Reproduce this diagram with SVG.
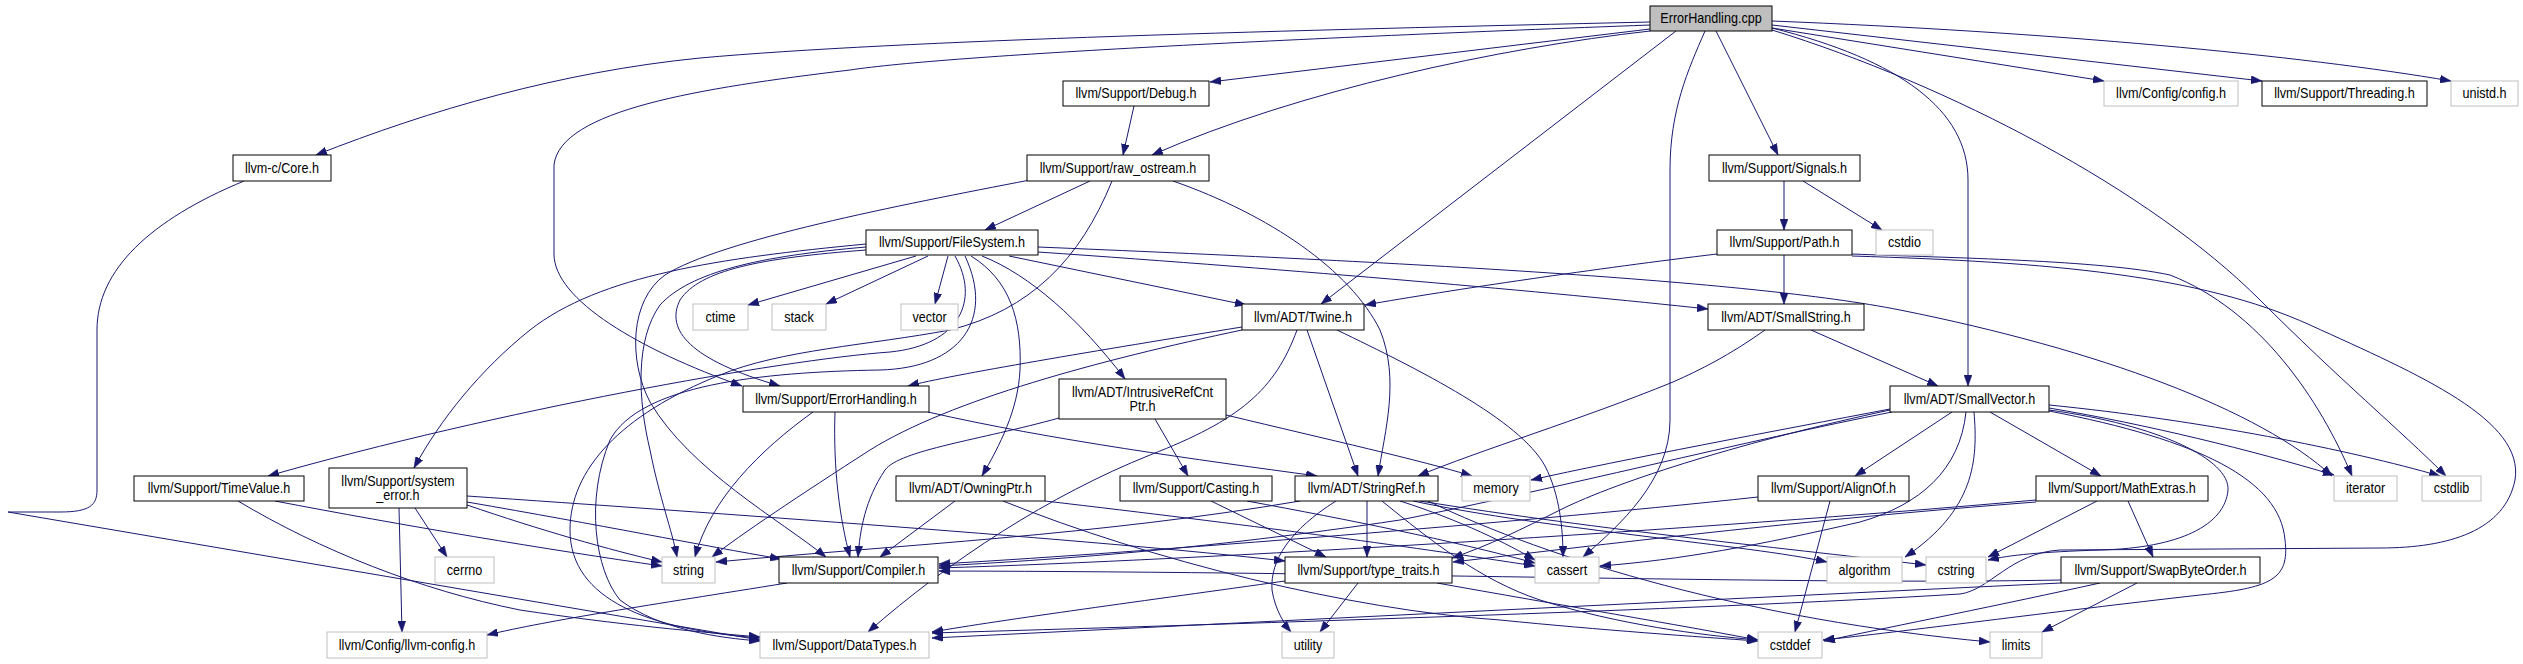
<svg xmlns="http://www.w3.org/2000/svg" width="2523" height="664" viewBox="0 0 2523 664">
<defs>
<style>
.n rect{fill:#fff;stroke:#000;stroke-width:1}
.x rect{fill:#fff;stroke:#bfbfbf;stroke-width:1}
.r rect{fill:#bfbfbf;stroke:#000;stroke-width:1}
text{font-family:"Liberation Sans",Arial,sans-serif;font-size:14px;fill:#000;text-anchor:middle;transform-box:fill-box;transform-origin:center;transform:scaleX(0.9)}
.e path{fill:none;stroke:#191970;stroke-width:1;marker-end:url(#a)}
</style>
<marker id="a" markerWidth="11" markerHeight="8" refX="11" refY="4" orient="auto" markerUnits="userSpaceOnUse"><path d="M0,0 L11,4 L0,8 z" fill="#191970" stroke="#191970" stroke-width="0.5"/></marker>
</defs>
<rect width="2523" height="664" fill="#fff"/>
<g id="connectors" class="e">
<path d="M1650,22 C1300,30 900,40 700,58 C560,72 430,110 316,155"/>
<path d="M1650,25 C1300,38 950,55 850,70 C700,88 560,110 554,165 L554,254 C554,300 640,350 742,386"/>
<path d="M1650,29 L1210,82"/>
<path d="M1650,31 C1500,48 1300,90 1152,155"/>
<path d="M1676,31 L1321,304"/>
<path d="M1705,31 C1688,70 1670,110 1670,170 L1670,420 C1670,480 1620,525 1583,557"/>
<path d="M1716,31 L1778,155"/>
<path d="M1772,28 C1900,60 1968,110 1968,180 L1968,386"/>
<path d="M1772,30 C1950,85 2150,190 2260,300 C2340,380 2400,430 2446,476"/>
<path d="M1772,28 L2104,81"/>
<path d="M1772,25 L2262,81"/>
<path d="M1772,21 C2050,32 2300,55 2451,81"/>
<path d="M244,181 C150,220 97,270 97,330 L97,490 C97,505 90,512 60,512 L8,512 L760,640"/>
<path d="M1134,106 L1123,155"/>
<path d="M1090,181 L985,230"/>
<path d="M1030,180 C900,205 720,240 665,275 C630,300 628,360 650,402 C690,470 780,520 826,557"/>
<path d="M1112,181 C1080,260 1030,310 950,330 C870,345 780,350 720,375 C620,415 570,470 570,530 C570,600 650,630 760,638"/>
<path d="M1173,181 C1270,215 1350,270 1380,330 C1400,380 1385,430 1378,476"/>
<path d="M1784,181 L1784,230"/>
<path d="M1803,181 L1882,230"/>
<path d="M916,256 L748,305"/>
<path d="M928,256 L826,304"/>
<path d="M948,256 L935,304"/>
<path d="M1009,256 L1246,305"/>
<path d="M982,256 C1030,275 1080,320 1125,379"/>
<path d="M971,256 C1010,280 1022,320 1020,370 C1018,410 1000,445 982,476"/>
<path d="M1038,252 C1300,270 1550,292 1708,309"/>
<path d="M1038,247 C1400,262 1750,280 1900,310 C2100,350 2260,410 2332,476"/>
<path d="M955,256 C980,300 960,345 890,352 C780,360 500,410 268,476"/>
<path d="M965,256 C995,320 960,368 880,370 C760,372 640,385 610,440 C585,500 595,570 620,600 C660,630 720,638 760,641"/>
<path d="M866,244 C720,258 600,275 530,330 C480,370 440,420 414,468"/>
<path d="M866,250 C760,258 700,270 680,300 C665,330 690,360 780,386"/>
<path d="M866,247 C760,256 690,272 660,305 C635,340 638,400 650,450 C660,500 672,530 677,557"/>
<path d="M1307,330 L1358,476"/>
<path d="M1242,327 C1100,350 950,375 908,386"/>
<path d="M1242,330 C1100,360 950,400 870,450 C800,495 740,535 712,557"/>
<path d="M1297,330 C1275,390 1240,420 1150,455 C1050,495 950,560 868,632"/>
<path d="M1337,330 C1420,370 1520,420 1545,466 C1560,495 1563,530 1563,557"/>
<path d="M1717,254 C1600,268 1450,290 1365,305"/>
<path d="M1784,255 L1784,304"/>
<path d="M1852,254 C1950,258 2100,260 2170,275 C2260,310 2320,400 2352,476"/>
<path d="M1852,256 C2050,262 2200,275 2310,325 C2420,375 2525,420 2515,480 C2505,530 2450,548 2380,548 L2060,550 C2010,553 1990,590 1960,594 C1700,610 1200,625 932,633"/>
<path d="M1811,330 L1938,386"/>
<path d="M1765,330 C1730,355 1700,370 1673,382 C1580,420 1480,450 1418,476"/>
<path d="M928,412 C1050,440 1200,460 1317,476"/>
<path d="M835,412 C833,470 840,520 850,557"/>
<path d="M813,412 C760,450 710,500 695,557"/>
<path d="M1155,419 L1188,476"/>
<path d="M1226,415 C1330,440 1420,460 1472,476"/>
<path d="M1059,418 C980,440 900,450 885,470 C865,500 860,530 858,557"/>
<path d="M1890,409 C1780,430 1620,460 1531,480"/>
<path d="M1890,410 C1750,440 1620,480 1560,510 C1520,530 1490,545 1452,558"/>
<path d="M1892,412 C1750,440 1550,490 1400,520 C1200,550 1050,560 939,566"/>
<path d="M1952,412 L1855,476"/>
<path d="M1990,412 L2101,476"/>
<path d="M1974,412 C1978,460 1975,510 1905,557"/>
<path d="M1966,412 C1960,470 1920,505 1860,522 C1760,545 1680,560 1600,566"/>
<path d="M2049,408 C2150,425 2250,450 2334,475"/>
<path d="M2049,405 C2200,420 2350,450 2440,476"/>
<path d="M2049,410 C2160,425 2230,460 2228,490 C2225,525 2180,548 2100,550 C2040,552 2010,555 1988,560"/>
<path d="M2049,411 C2200,440 2280,480 2285,540 C2290,580 2270,588 2200,595 C2050,612 1900,632 1823,640"/>
<path d="M2036,500 C1700,530 1200,560 939,568"/>
<path d="M2036,502 C1800,520 1600,545 1453,562"/>
<path d="M2097,501 L1988,557"/>
<path d="M2128,501 L2153,557"/>
<path d="M1758,497 C1500,525 1100,555 939,564"/>
<path d="M1830,501 L1795,632"/>
<path d="M2061,580 C1800,585 1400,572 939,571"/>
<path d="M2061,583 C1700,600 1300,620 932,638"/>
<path d="M2100,583 C2000,605 1900,625 1824,641"/>
<path d="M2137,583 L2042,632"/>
<path d="M1358,583 L1320,632"/>
<path d="M1437,583 C1560,605 1680,625 1758,640"/>
<path d="M1285,581 C1150,600 1000,620 932,632"/>
<path d="M1211,501 L1326,557"/>
<path d="M1247,501 C1350,520 1450,540 1535,563"/>
<path d="M955,501 L880,557"/>
<path d="M1045,501 C1250,525 1400,545 1535,566"/>
<path d="M1003,501 C1150,560 1350,610 1500,620 C1600,630 1700,637 1758,641"/>
<path d="M1367,501 L1367,557"/>
<path d="M1336,501 C1290,530 1270,560 1272,590 C1275,610 1285,625 1291,632"/>
<path d="M1300,501 C1100,535 900,545 716,562"/>
<path d="M1400,501 C1460,520 1510,545 1535,560"/>
<path d="M1413,501 C1550,530 1750,545 1827,562"/>
<path d="M1420,501 C1600,530 1800,550 1926,565"/>
<path d="M1428,501 C1550,560 1750,620 1990,642"/>
<path d="M1382,501 C1430,540 1480,580 1540,600 C1620,625 1700,635 1758,640"/>
<path d="M238,501 C320,550 420,590 520,610 C620,625 700,632 760,637"/>
<path d="M275,501 C400,525 550,550 662,566"/>
<path d="M399,508 L402,632"/>
<path d="M415,508 L447,557"/>
<path d="M467,505 C540,530 610,550 662,562"/>
<path d="M467,502 C600,525 700,545 781,559"/>
<path d="M467,496 C700,512 1100,540 1285,561"/>
<path d="M787,583 C650,605 550,620 487,635"/>
</g>
<g id="n_cpp" class="r"><rect x="1650" y="6" width="122" height="25"/><text x="1711" y="23.5">ErrorHandling.cpp</text></g>
<g id="n_debug" class="n"><rect x="1063" y="81" width="146" height="25"/><text x="1136" y="98.5">llvm/Support/Debug.h</text></g>
<g id="n_config" class="x"><rect x="2104" y="81" width="134" height="25"/><text x="2171" y="98.5">llvm/Config/config.h</text></g>
<g id="n_threading" class="n"><rect x="2262" y="81" width="165" height="25"/><text x="2344.5" y="98.5">llvm/Support/Threading.h</text></g>
<g id="n_unistd" class="x"><rect x="2451" y="81" width="67" height="25"/><text x="2484.5" y="98.5">unistd.h</text></g>
<g id="n_core" class="n"><rect x="233" y="155" width="98" height="26"/><text x="282" y="173">llvm-c/Core.h</text></g>
<g id="n_raw_ostream" class="n"><rect x="1027" y="155" width="182" height="26"/><text x="1118" y="173">llvm/Support/raw_ostream.h</text></g>
<g id="n_signals" class="n"><rect x="1709" y="155" width="151" height="26"/><text x="1784.5" y="173">llvm/Support/Signals.h</text></g>
<g id="n_filesystem" class="n"><rect x="866" y="230" width="172" height="25"/><text x="952" y="247.5">llvm/Support/FileSystem.h</text></g>
<g id="n_path" class="n"><rect x="1717" y="230" width="135" height="25"/><text x="1784.5" y="247.5">llvm/Support/Path.h</text></g>
<g id="n_cstdio" class="x"><rect x="1876" y="230" width="57" height="25"/><text x="1904.5" y="247.5">cstdio</text></g>
<g id="n_ctime" class="x"><rect x="693" y="304" width="55" height="26"/><text x="720.5" y="322">ctime</text></g>
<g id="n_stack" class="x"><rect x="772" y="304" width="54" height="26"/><text x="799" y="322">stack</text></g>
<g id="n_vector" class="x"><rect x="901" y="304" width="57" height="26"/><text x="929.5" y="322">vector</text></g>
<g id="n_twine" class="n"><rect x="1242" y="304" width="122" height="26"/><text x="1303" y="322">llvm/ADT/Twine.h</text></g>
<g id="n_smallstring" class="n"><rect x="1708" y="304" width="156" height="26"/><text x="1786" y="322">llvm/ADT/SmallString.h</text></g>
<g id="n_errorhandling_h" class="n"><rect x="743" y="386" width="186" height="26"/><text x="836" y="404">llvm/Support/ErrorHandling.h</text></g>
<g id="n_intrusiverefcntptr" class="n"><rect x="1059" y="379" width="167" height="40"/><text x="1142.5" y="397">llvm/ADT/IntrusiveRefCnt</text><text x="1142.5" y="411">Ptr.h</text></g>
<g id="n_smallvector" class="n"><rect x="1890" y="386" width="159" height="26"/><text x="1969.5" y="404">llvm/ADT/SmallVector.h</text></g>
<g id="n_timevalue" class="n"><rect x="134" y="476" width="170" height="25"/><text x="219" y="493.5">llvm/Support/TimeValue.h</text></g>
<g id="n_system_error" class="n"><rect x="329" y="468" width="138" height="40"/><text x="398" y="486">llvm/Support/system</text><text x="398" y="500">_error.h</text></g>
<g id="n_owningptr" class="n"><rect x="896" y="476" width="149" height="25"/><text x="970.5" y="493.5">llvm/ADT/OwningPtr.h</text></g>
<g id="n_casting" class="n"><rect x="1120" y="476" width="152" height="25"/><text x="1196" y="493.5">llvm/Support/Casting.h</text></g>
<g id="n_stringref" class="n"><rect x="1295" y="476" width="143" height="25"/><text x="1366.5" y="493.5">llvm/ADT/StringRef.h</text></g>
<g id="n_memory" class="x"><rect x="1462" y="476" width="68" height="25"/><text x="1496" y="493.5">memory</text></g>
<g id="n_alignof" class="n"><rect x="1758" y="476" width="151" height="25"/><text x="1833.5" y="493.5">llvm/Support/AlignOf.h</text></g>
<g id="n_mathextras" class="n"><rect x="2036" y="476" width="172" height="25"/><text x="2122" y="493.5">llvm/Support/MathExtras.h</text></g>
<g id="n_iterator" class="x"><rect x="2334" y="476" width="63" height="25"/><text x="2365.5" y="493.5">iterator</text></g>
<g id="n_cstdlib" class="x"><rect x="2422" y="476" width="59" height="25"/><text x="2451.5" y="493.5">cstdlib</text></g>
<g id="n_cerrno" class="x"><rect x="435" y="557" width="59" height="26"/><text x="464.5" y="575">cerrno</text></g>
<g id="n_string" class="x"><rect x="662" y="557" width="53" height="26"/><text x="688.5" y="575">string</text></g>
<g id="n_compiler" class="n"><rect x="779" y="557" width="159" height="26"/><text x="858.5" y="575">llvm/Support/Compiler.h</text></g>
<g id="n_type_traits" class="n"><rect x="1285" y="557" width="167" height="26"/><text x="1368.5" y="575">llvm/Support/type_traits.h</text></g>
<g id="n_cassert" class="x"><rect x="1535" y="557" width="64" height="26"/><text x="1567" y="575">cassert</text></g>
<g id="n_algorithm" class="x"><rect x="1827" y="557" width="75" height="26"/><text x="1864.5" y="575">algorithm</text></g>
<g id="n_cstring" class="x"><rect x="1926" y="557" width="60" height="26"/><text x="1956" y="575">cstring</text></g>
<g id="n_swapbyteorder" class="n"><rect x="2061" y="557" width="199" height="26"/><text x="2160.5" y="575">llvm/Support/SwapByteOrder.h</text></g>
<g id="n_llvm_config" class="x"><rect x="327" y="632" width="160" height="26"/><text x="407" y="650">llvm/Config/llvm-config.h</text></g>
<g id="n_datatypes" class="x"><rect x="760" y="632" width="169" height="26"/><text x="844.5" y="650">llvm/Support/DataTypes.h</text></g>
<g id="n_utility" class="x"><rect x="1282" y="632" width="52" height="26"/><text x="1308" y="650">utility</text></g>
<g id="n_cstddef" class="x"><rect x="1758" y="632" width="64" height="26"/><text x="1790" y="650">cstddef</text></g>
<g id="n_limits" class="x"><rect x="1990" y="632" width="52" height="26"/><text x="2016" y="650">limits</text></g>
</svg>
